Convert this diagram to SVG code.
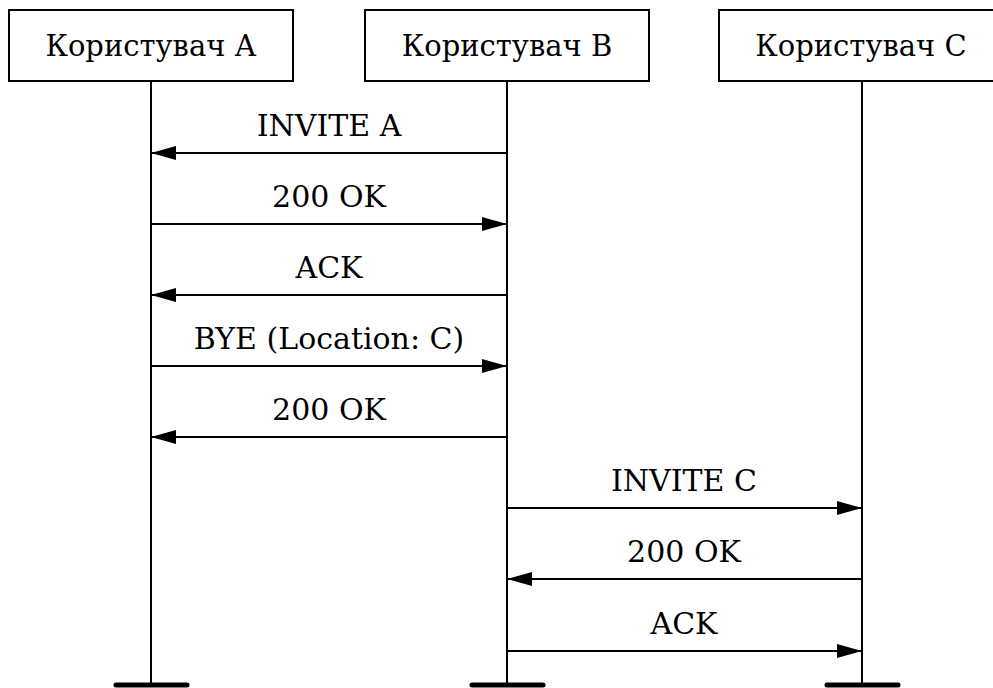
<svg xmlns="http://www.w3.org/2000/svg" width="993" height="688" viewBox="0 0 993 688">
  <style>
    .box { fill: #fff; stroke: #000; stroke-width: 2; }
    .life { stroke: #000; stroke-width: 2; fill: none; }
    .end { stroke: #000; stroke-width: 5; stroke-linecap: round; }
    .msg { stroke: #000; stroke-width: 2; fill: none; }
    text { font-family: "DejaVu Serif", serif; font-size: 30px; fill: #000; text-anchor: middle; }
    .head { font-size: 29px; }
  </style>
  <defs>
    <marker id="arrow" viewBox="0 0 25 14" refX="25" refY="7" markerWidth="25" markerHeight="14" markerUnits="userSpaceOnUse" orient="auto">
      <path d="M0,0 L25,7 L0,14 Z" fill="#000"/>
    </marker>
  </defs>

  <rect width="993" height="688" fill="#fff"/>

  <!-- participants -->
  <g id="user-a">
    <rect class="box" x="9" y="10" width="284" height="71"/>
    <text class="head" x="151" y="56">Користувач А</text>
    <line class="life" x1="151" y1="81" x2="151" y2="685"/>
    <line class="end" x1="116" y1="685" x2="187" y2="685"/>
  </g>
  <g id="user-b">
    <rect class="box" x="365" y="10" width="284" height="71"/>
    <text class="head" x="507" y="56">Користувач В</text>
    <line class="life" x1="507" y1="81" x2="507" y2="685"/>
    <line class="end" x1="472" y1="685" x2="543" y2="685"/>
  </g>
  <g id="user-c">
    <rect class="box" x="719" y="10" width="284" height="71"/>
    <text class="head" x="861" y="56">Користувач С</text>
    <line class="life" x1="862" y1="81" x2="862" y2="685"/>
    <line class="end" x1="827" y1="685" x2="898" y2="685"/>
  </g>

  <!-- messages -->
  <g id="connectors">
    <line class="msg" x1="507" y1="153" x2="151" y2="153" marker-end="url(#arrow)"/>
    <text x="329" y="136">INVITE A</text>

    <line class="msg" x1="151" y1="224" x2="507" y2="224" marker-end="url(#arrow)"/>
    <text x="329" y="207">200 OK</text>

    <line class="msg" x1="507" y1="295" x2="151" y2="295" marker-end="url(#arrow)"/>
    <text x="329" y="278">ACK</text>

    <line class="msg" x1="151" y1="366" x2="507" y2="366" marker-end="url(#arrow)"/>
    <text x="329" y="349">BYE (Location: C)</text>

    <line class="msg" x1="507" y1="437" x2="151" y2="437" marker-end="url(#arrow)"/>
    <text x="329" y="420">200 OK</text>

    <line class="msg" x1="507" y1="508" x2="862" y2="508" marker-end="url(#arrow)"/>
    <text x="684" y="491">INVITE C</text>

    <line class="msg" x1="862" y1="579" x2="507" y2="579" marker-end="url(#arrow)"/>
    <text x="684" y="562">200 OK</text>

    <line class="msg" x1="507" y1="651" x2="862" y2="651" marker-end="url(#arrow)"/>
    <text x="684" y="634">ACK</text>
  </g>
</svg>
